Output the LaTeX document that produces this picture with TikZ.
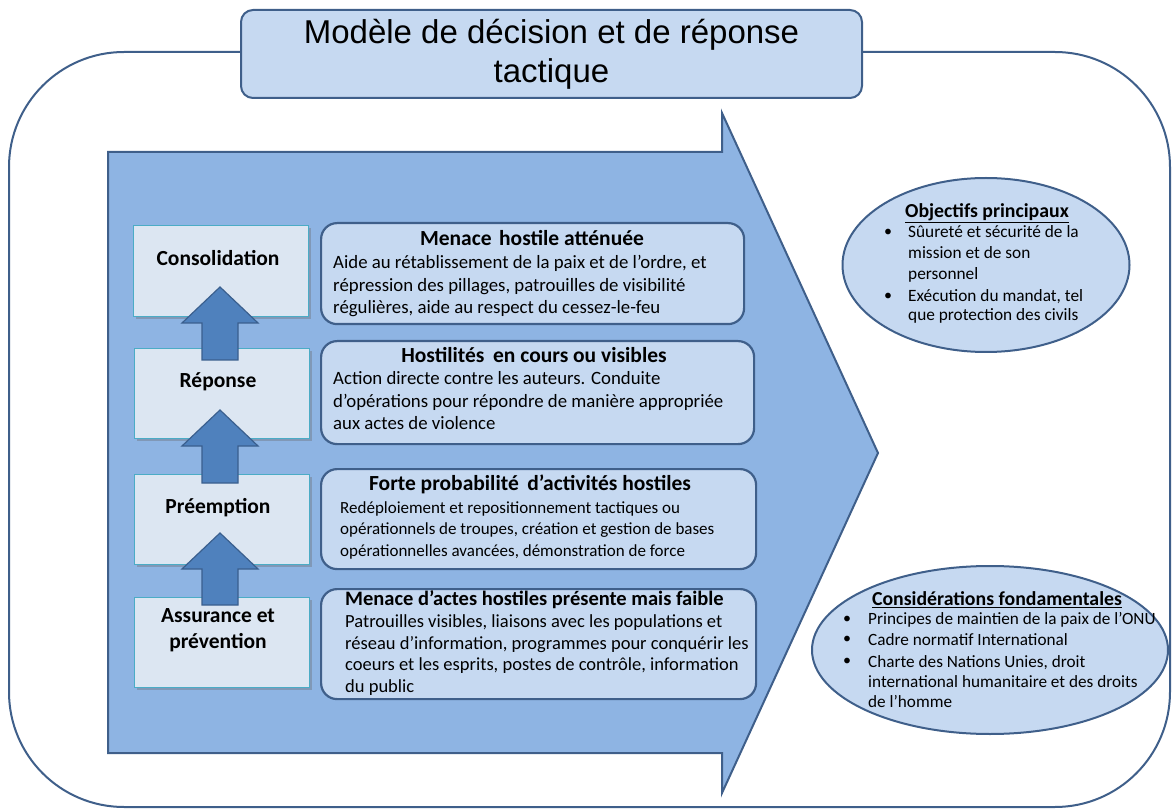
\documentclass[tikz,border=0pt]{standalone}
\usepackage{fontspec}
\setmainfont{Carlito}
\newfontfamily\titlefont{Liberation Sans}
\usetikzlibrary{shapes.geometric,shadows}
\definecolor{framec}{HTML}{3F5F8A}
\definecolor{boxfill}{HTML}{C6D9F1}
\definecolor{arrowfill}{HTML}{8EB4E3}
\definecolor{lbfill}{HTML}{DCE6F2}
\definecolor{lbborder}{HTML}{4BACC6}
\definecolor{uparf}{HTML}{4F81BD}
\definecolor{uparb}{HTML}{3A5F8E}
\tikzset{
  titlebox/.style={draw=framec, line width=2pt, fill=boxfill, rounded corners=12pt, inner sep=0pt, anchor=north west},
  lbox/.style={draw=lbborder, line width=1pt, fill=lbfill, minimum width=175pt, anchor=north west, inner sep=0pt,
    drop shadow={shadow xshift=2pt, shadow yshift=-2.5pt, opacity=0.35, fill=black!60}},
  lboxlabel/.style={font=\fontsize{21.5}{26}\selectfont\bfseries, align=center, inner sep=0pt},
  tbox/.style={draw=framec, line width=2.2pt, fill=boxfill, rounded corners=16pt, anchor=north west, inner sep=0pt},
  thead/.style={font=\fontsize{21.5}{24}\selectfont\bfseries, inner sep=0pt},
  tbody/.style={font=\fontsize{18.8}{22.5}\selectfont, align=left, anchor=west, inner sep=0pt},
  uparrowshape/.style={draw=uparb, fill=uparf, line width=1.2pt, line join=miter},
  ell/.style={ellipse, draw=framec, line width=2pt, fill=boxfill, inner sep=0pt},
  ehead/.style={font=\fontsize{19.8}{22}\selectfont\bfseries, inner sep=0pt},
  ebody/.style={font=\fontsize{17.3}{21}\selectfont, align=left, anchor=west, inner sep=0pt},
  ebullet/.style={font=\fontsize{16}{20}\selectfont, inner sep=0pt},
}
\newcommand\blockup[3]{%
  \draw[uparrowshape] (#1,#2) -- (#1+38,#2+36) -- (#1+18,#2+36) -- (#1+18,#3)
    -- (#1-18,#3) -- (#1-18,#2+36) -- (#1-38,#2+36) -- cycle;}
\begin{document}
\begin{tikzpicture}[x=1pt,y=-1pt]
\useasboundingbox (0,0) rectangle (1176,810);
% outer frame
\draw[framec, line width=2pt, rounded corners=115pt] (9,52) rectangle (1170,807);
% title
\node[titlebox, minimum width=621pt, minimum height=88pt] (titlebg) at (240,9) {};
\node[font=\titlefont\fontsize{33}{39}\selectfont, align=center, inner sep=0pt] (title) at (titlebg.center) {Modèle de décision et de réponse\\tactique};
% big arrow
\draw[fill=arrowfill, draw=framec, line width=2pt, line join=miter]
  (108,152) -- (722,152) -- (722,113) -- (878,453) -- (722,793) -- (722,753) -- (108,753) -- cycle;
% left boxes
\node[lbox, minimum height=91pt] (cons) at (133,225) {};
\node[lbox, minimum height=90pt] (rep) at (134,348) {};
\node[lbox, minimum height=90pt] (pre) at (134,474) {};
\node[lbox, minimum height=90pt] (ass) at (134,597) {};
\node[lboxlabel] (consl) at (218,258) {Consolidation};
\node[lboxlabel] (repl) at (218,382) {Réponse};
\node[lboxlabel] (prel) at (218,508) {Préemption};
\node[lboxlabel] (assl) at (218,630) {Assurance et\\prévention};
% up arrows
\blockup{220}{287}{360}
\blockup{220}{410}{483}
\blockup{220}{533}{605}
% text boxes
\node[tbox, minimum width=423pt, minimum height=101pt] (t1) at (320,222) {};
\node[thead] (h1) at (532,238) {Menace\hspace{0.35em}hostile atténuée};
\node[tbody] (b1) at (333,286) {Aide au rétablissement de la paix et de l'ordre, et\\répression des pillages, patrouilles de visibilité\\régulières, aide au respect du cessez-le-feu};

\node[tbox, minimum width=433pt, minimum height=103pt] (t2) at (320,340) {};
\node[thead] (h2) at (534,355) {Hostilités\hspace{0.4em}en cours ou visibles};
\node[tbody] (b2) at (333,401) {Action directe contre les auteurs. Conduite\\d’opérations pour répondre de manière appropriée\\aux actes de violence};

\node[tbox, minimum width=435pt, minimum height=100pt] (t3) at (320,468) {};
\node[thead] (h3) at (530,484) {Forte probabilité\hspace{0.4em}d’activités hostiles};
\node[tbody, font=\fontsize{17}{21.5}\selectfont] (b3) at (340,530) {Redéploiement et repositionnement tactiques ou\\opérationnels de troupes, création et gestion de bases\\opérationnelles avancées, démonstration de force};

\node[tbox, minimum width=435pt, minimum height=110pt] (t4) at (320,588) {};
\node[thead, anchor=west, font=\fontsize{20.5}{24}\selectfont\bfseries] (h4) at (345,600) {Menace d’actes hostiles présente mais faible};
\node[tbody, font=\fontsize{18.5}{21.7}\selectfont] (b4) at (345,655) {Patrouilles visibles, liaisons avec les populations et\\réseau d’information, programmes pour conquérir les\\coeurs et les esprits, postes de contrôle, information\\du public};
% ellipses
\node[ell, minimum width=287pt, minimum height=174pt] (obj) at (986,265) {};
\node[ehead] (objh) at (987,213) {\underline{Objectifs principaux}};
\node[ebullet] (objb1) at (888,233) {•};
\node[ebullet] (objb2) at (888,297) {•};
\node[ebody] (objt1) at (908,254) {Sûureté et sécurité de la\\mission et de son\\personnel};
\node[ebody, font=\fontsize{17.3}{19.5}\selectfont] (objt2) at (908,306.5) {Exécution du mandat, tel\\que protection des civils};

\node[ell, minimum width=356pt, minimum height=168pt] (cons2) at (990,650) {};
\node[ehead] (consh) at (997,600) {\underline{Considérations fondamentales}};
\node[ebullet] (consb1) at (847,620) {•};
\node[ebullet] (consb2) at (847,640) {•};
\node[ebullet] (consb3) at (847,662) {•};
\node[ebody, font=\fontsize{17.2}{20}\selectfont] (const1) at (868,620) {Principes de maintien de la paix de l’ONU};
\node[ebody, font=\fontsize{17.2}{20}\selectfont] (const2) at (868,640) {Cadre normatif International};
\node[ebody, font=\fontsize{17.2}{20}\selectfont] (const3) at (868,682) {Charte des Nations Unies, droit\\international humanitaire et des droits\\de l’homme};
\end{tikzpicture}
\end{document}
